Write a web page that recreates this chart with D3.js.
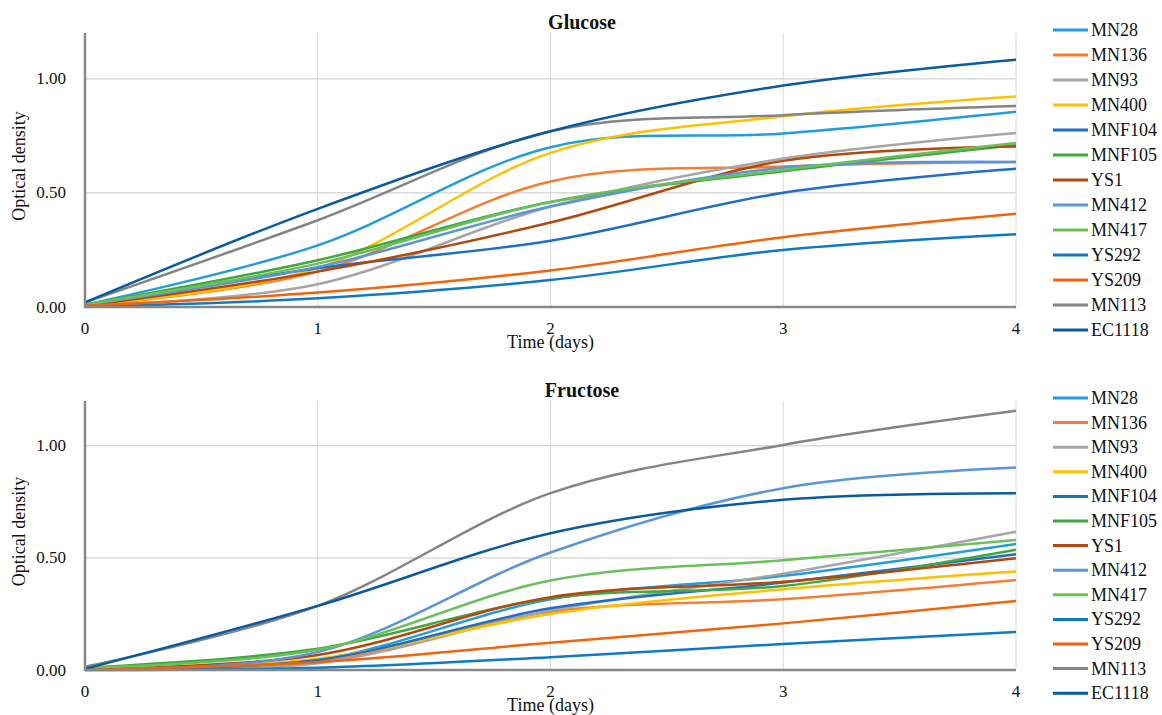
<!DOCTYPE html>
<html lang="en">
<head>
  <meta charset="utf-8">
  <title>Glucose and Fructose growth curves</title>
  <script src="https://d3js.org/d3.v7.min.js"></script>
  <style>
    body { margin: 0; background: #fff; }
    svg text { font-family: "Palatino Linotype", "Book Antiqua", Palatino, "Liberation Serif", serif; fill: #111; }
    .grid line { stroke: #d9d9d9; }
    .tick-label { font-size: 17px; }
    .axis-title { font-size: 18px; }
    .chart-title { font-size: 20px; font-weight: bold; }
    .legend text { font-size: 18px; }
  </style>
</head>
<body>
<script>
  // time points (days)
  const days = [0, 1, 2, 3, 4];
  const strains = ["MN28", "MN136", "MN93", "MN400", "MNF104", "MNF105", "YS1",
                   "MN412", "MN417", "YS292", "YS209", "MN113", "EC1118"];
  const colors = ["#229ddb", "#f57e32", "#a5a5a5", "#ffc000", "#1f6fc6", "#3fa83f", "#b5480c",
                  "#5a95d8", "#6cc05b", "#0e7ac6", "#f0640a", "#848484", "#0a5aa0"];
  const yTicks = [0, 0.5, 1.0];

  // optical density read per strain, same order as strains
  const glucoseOD = [
    [0.01, 0.27, 0.70, 0.76, 0.855],
    [0.005, 0.155, 0.55, 0.615, 0.635],
    [0.005, 0.10, 0.44, 0.65, 0.762],
    [0.01, 0.17, 0.675, 0.835, 0.922],
    [0.01, 0.17, 0.29, 0.50, 0.605],
    [0.01, 0.205, 0.46, 0.595, 0.71],
    [0.005, 0.155, 0.37, 0.64, 0.703],
    [0.01, 0.175, 0.44, 0.61, 0.635],
    [0.01, 0.19, 0.46, 0.60, 0.718],
    [0.0, 0.038, 0.118, 0.25, 0.319],
    [0.005, 0.063, 0.16, 0.305, 0.408],
    [0.02, 0.38, 0.77, 0.84, 0.88],
    [0.02, 0.43, 0.77, 0.97, 1.083]
  ];
  const fructoseOD = [
    [0.005, 0.045, 0.315, 0.42, 0.5625],
    [0.005, 0.035, 0.26, 0.316, 0.402],
    [0.005, 0.03, 0.265, 0.43, 0.617],
    [0.005, 0.05, 0.25, 0.36, 0.439],
    [0.005, 0.045, 0.275, 0.39, 0.516],
    [0.01, 0.095, 0.32, 0.375, 0.536],
    [0.005, 0.067, 0.325, 0.394, 0.499],
    [0.005, 0.08, 0.524, 0.811, 0.903],
    [0.01, 0.09, 0.399, 0.49, 0.58],
    [0.0, 0.01, 0.057, 0.116, 0.17],
    [0.0, 0.035, 0.122, 0.208, 0.308],
    [0.015, 0.286, 0.789, 1.004, 1.156],
    [0.005, 0.286, 0.61, 0.759, 0.789]
  ];

  const svg = d3.select("body").append("svg")
    .attr("width", 1162)
    .attr("height", 715);

  function drawPanel(title, values, top, bottom, legendTop, legendStep) {
    const x = d3.scaleLinear().domain([0, 4]).range([85, 1016]);
    const y = d3.scaleLinear().domain([0, 1.2]).range([bottom, top]);
    const g = svg.append("g");

    // grid
    const grid = g.append("g").attr("class", "grid");
    grid.selectAll(".vg").data(days.slice(1)).enter().append("line")
      .attr("x1", d => x(d)).attr("x2", d => x(d))
      .attr("y1", top).attr("y2", bottom)
      .attr("stroke-width", 1);
    grid.selectAll(".hg").data(yTicks.slice(1)).enter().append("line")
      .attr("x1", x(0)).attr("x2", x(4))
      .attr("y1", d => y(d)).attr("y2", d => y(d))
      .attr("stroke-width", 1.5);

    // series
    const line = d3.line()
      .x((d, i) => x(days[i]))
      .y(d => y(d))
      .curve(d3.curveCatmullRom.alpha(0));
    g.selectAll(".series").data(values).enter().append("path")
      .attr("class", "series")
      .attr("d", d => line(d))
      .attr("fill", "none")
      .attr("stroke", (d, i) => colors[i])
      .attr("stroke-width", 2.5);

    // axes lines
    g.append("line").attr("x1", x(0)).attr("x2", x(0))
      .attr("y1", top).attr("y2", bottom + 1)
      .attr("stroke", "#888").attr("stroke-width", 2.5);
    g.append("line").attr("x1", x(0)).attr("x2", x(4))
      .attr("y1", bottom).attr("y2", bottom)
      .attr("stroke", "#888").attr("stroke-width", 2.5);

    // tick labels
    g.selectAll(".ytl").data(yTicks).enter().append("text")
      .attr("class", "tick-label")
      .attr("x", 66).attr("y", d => y(d))
      .attr("text-anchor", "end").attr("dominant-baseline", "central")
      .text(d3.format(".2f"));
    g.selectAll(".xtl").data(days).enter().append("text")
      .attr("class", "tick-label")
      .attr("x", d => x(d)).attr("y", bottom + 27)
      .attr("text-anchor", "middle")
      .text(d => d);

    g.append("text").attr("class", "axis-title")
      .attr("x", x(2)).attr("y", bottom + 41)
      .attr("text-anchor", "middle")
      .text("Time (days)");
    g.append("text").attr("class", "axis-title")
      .attr("transform", `translate(25,${(top + bottom) / 2 - 4}) rotate(-90)`)
      .attr("text-anchor", "middle")
      .text("Optical density");

    g.append("text").attr("class", "chart-title")
      .attr("x", 582).attr("y", top - 4)
      .attr("text-anchor", "middle")
      .text(title);

    // legend
    const lg = g.append("g").attr("class", "legend");
    const items = lg.selectAll("g").data(strains).enter().append("g")
      .attr("transform", (d, i) => `translate(0,${legendTop + i * legendStep})`);
    items.append("line")
      .attr("x1", 1053).attr("x2", 1088)
      .attr("stroke", (d, i) => colors[i]).attr("stroke-width", 3);
    items.append("text")
      .attr("x", 1091).attr("dominant-baseline", "central")
      .text(d => d);
  }

  drawPanel("Glucose", glucoseOD, 33, 307, 30, 25);
  drawPanel("Fructose", fructoseOD, 401, 670, 398, 24.6);
</script>
</body>
</html>
